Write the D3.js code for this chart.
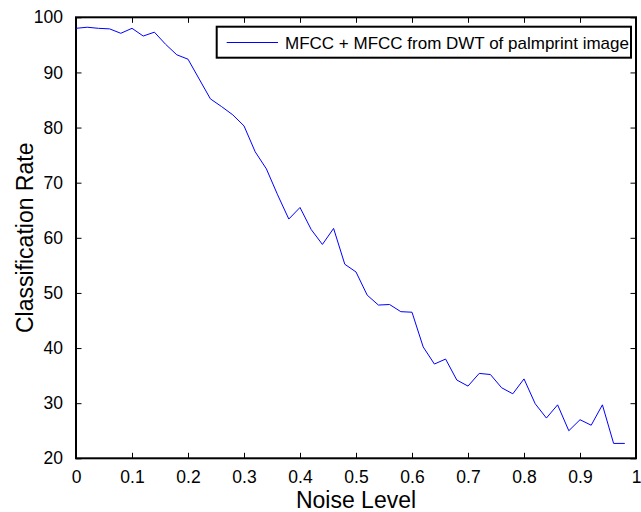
<!DOCTYPE html>
<html>
<head>
<meta charset="utf-8">
<script src="https://cdn.jsdelivr.net/npm/d3@7"></script>
<style>
  html, body { margin: 0; padding: 0; background: #fff; }
  svg { display: block; font-family: "Liberation Sans", Arial, Helvetica, sans-serif; }
</style>
</head>
<body>
<svg id="chart" width="641" height="512"></svg>
<script>
// ---- data ----
const noiseLevels = [0.00,0.02,0.04,0.06,0.08,0.10,0.12,0.14,0.16,0.18,
                     0.20,0.22,0.24,0.26,0.28,0.30,0.32,0.34,0.36,0.38,
                     0.40,0.42,0.44,0.46,0.48,0.50,0.52,0.54,0.56,0.58,
                     0.60,0.62,0.64,0.66,0.68,0.70,0.72,0.74,0.76,0.78,
                     0.80,0.82,0.84,0.86,0.88,0.90,0.92,0.94,0.96,0.98];
const classificationRate = [98.0,98.2,98.0,97.9,97.1,98.0,96.6,97.3,95.1,93.2,
                            92.4,88.8,85.2,83.8,82.3,80.3,75.6,72.5,67.8,63.4,
                            65.5,61.5,58.8,61.7,55.2,53.8,49.6,47.8,47.9,46.6,
                            46.5,40.2,37.1,38.0,34.2,33.1,35.4,35.2,32.8,31.7,
                            34.4,29.9,27.3,29.7,25.0,27.0,26.0,29.7,22.7,22.7];
const xTicks = [0,0.1,0.2,0.3,0.4,0.5,0.6,0.7,0.8,0.9,1];
const yTicks = [20,30,40,50,60,70,80,90,100];
const seriesName = "MFCC + MFCC from DWT of palmprint image";
const xLabel = "Noise Level";
const yLabel = "Classification Rate";

// ---- layout ----
const svg = d3.select("#chart");
const L = 76, R = 636, T = 17.3, B = 458.3;
const x = d3.scaleLinear().domain([0, 1]).range([L, R]);
const y = d3.scaleLinear().domain([20, 100]).range([B, T]);
const tickLen = 5.5;

svg.append("rect").attr("width", 641).attr("height", 512).attr("fill", "#fff");

const fmtX = d => d === 0 ? "0" : d === 1 ? "1" : d3.format(".1f")(d);

function styleAxis(g, labels) {
  g.select(".domain").remove();
  g.selectAll(".tick line").attr("stroke", "#000").attr("stroke-width", 1);
  g.selectAll(".tick text").attr("fill", "#000").attr("font-size", 17.5)
    .attr("font-family", "Liberation Sans, Arial, sans-serif");
  if (!labels) g.selectAll(".tick text").remove();
}

// bottom
svg.append("g").attr("transform", `translate(0,${B})`)
  .call(d3.axisBottom(x).tickValues(xTicks).tickFormat(fmtX).tickSizeInner(-tickLen).tickSizeOuter(0).tickPadding(12))
  .call(g => styleAxis(g, true));
// top
svg.append("g").attr("transform", `translate(0,${T})`)
  .call(d3.axisTop(x).tickValues(xTicks).tickSizeInner(-tickLen).tickSizeOuter(0))
  .call(g => styleAxis(g, false));
// left
svg.append("g").attr("transform", `translate(${L},0)`)
  .call(d3.axisLeft(y).tickValues(yTicks).tickSizeInner(-tickLen).tickSizeOuter(0).tickPadding(13))
  .call(g => styleAxis(g, true));
// right
svg.append("g").attr("transform", `translate(${R},0)`)
  .call(d3.axisRight(y).tickValues(yTicks).tickSizeInner(-tickLen).tickSizeOuter(0))
  .call(g => styleAxis(g, false));

// box
svg.append("rect").attr("x", L).attr("y", T).attr("width", R - L).attr("height", B - T)
  .attr("fill", "none").attr("stroke", "#000").attr("stroke-width", 2);

// line
const line = d3.line().x((d, i) => x(noiseLevels[i])).y(d => y(d));
svg.append("path").datum(classificationRate)
  .attr("d", line).attr("fill", "none").attr("stroke", "#0000ff").attr("stroke-width", 1);

// legend
const lg = svg.append("g");
lg.append("rect").attr("x", 216.7).attr("y", 26.7).attr("width", 631 - 216.7).attr("height", 57.7 - 26.7)
  .attr("fill", "#fff").attr("stroke", "#000").attr("stroke-width", 2);
lg.append("line").attr("x1", 226.7).attr("x2", 278).attr("y1", 42.5).attr("y2", 42.5)
  .attr("stroke", "#0000ff").attr("stroke-width", 1);
lg.append("text").attr("x", 285).attr("y", 48.5).attr("font-size", 17).attr("fill", "#000")
  .text(seriesName);

// axis labels
svg.append("text").attr("x", (L + R) / 2).attr("y", 508).attr("text-anchor", "middle")
  .attr("font-size", 23).attr("fill", "#000").text(xLabel);
svg.append("text").attr("transform", `translate(33,${(T + B) / 2}) rotate(-90)`)
  .attr("text-anchor", "middle").attr("font-size", 23).attr("fill", "#000").text(yLabel);
</script>
</body>
</html>
